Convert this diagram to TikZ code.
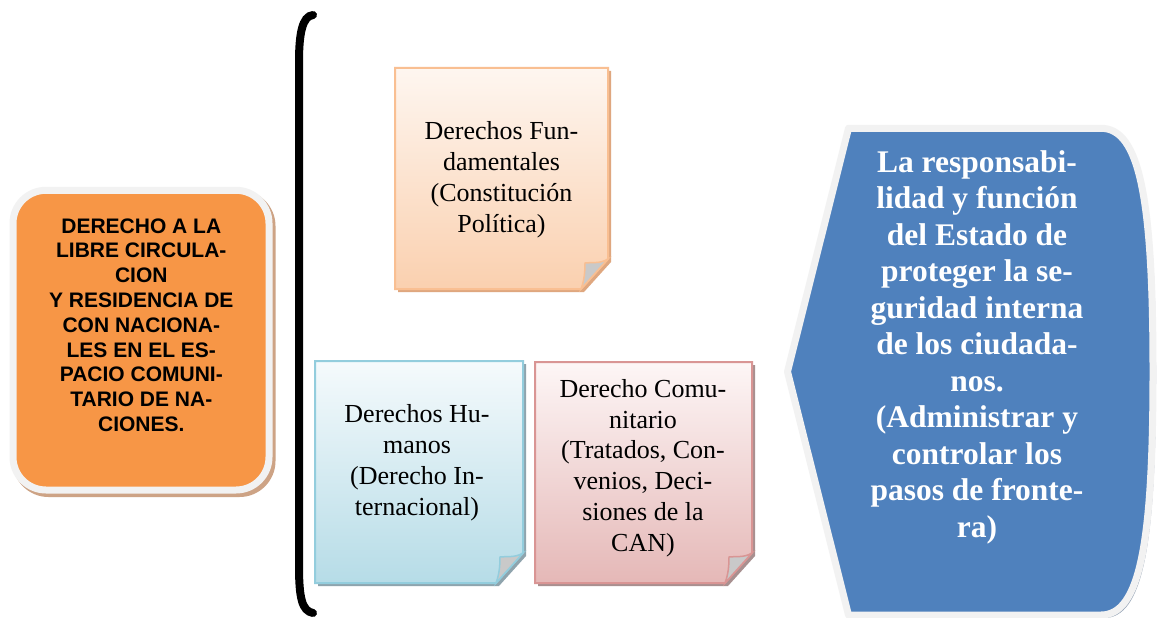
\documentclass[tikz,border=0pt]{standalone}
\usepackage{fontspec}
\setmainfont{Liberation Serif}
\newfontfamily\arialf{Liberation Sans}
\definecolor{orfill}{HTML}{F79646}
\definecolor{orshadow}{HTML}{CDA385}
\definecolor{lightborder}{HTML}{F2F2F2}
\definecolor{bluefill}{HTML}{4F81BD}
\definecolor{blueshadow}{HTML}{98A6B8}
\definecolor{peachtop}{HTML}{FEF6F0}
\definecolor{peachbot}{HTML}{FAD0AF}
\definecolor{peachborder}{HTML}{F9BF92}
\definecolor{peachshadow}{HTML}{DFA77F}
\definecolor{cyantop}{HTML}{F5FAFC}
\definecolor{cyanbot}{HTML}{B6DCE7}
\definecolor{cyanborder}{HTML}{93CDDD}
\definecolor{cyanshadow}{HTML}{8FA4AD}
\definecolor{pinktop}{HTML}{FDF6F6}
\definecolor{pinkbot}{HTML}{E5B8B7}
\definecolor{pinkborder}{HTML}{D99594}
\definecolor{pinkshadow}{HTML}{A89090}
\definecolor{foldgrey}{HTML}{C9C9C9}
\tikzset{
  notetext/.style={inner sep=0pt, align=center, font=\fontsize{26}{31}\selectfont},
  bracketline/.style={line width=8, draw=black, line cap=round},
}
% #1 L, #2 T, #3 R, #4 B, #5 top colour, #6 bottom colour, #7 border, #8 shadow
\newcommand\notebox[8]{%
  \fill[#8] (#1+3,#2+3) -- (#3+3,#2+3) -- (#3+3,#4+3-30) -- (#3+3-27,#4+3) -- (#1+3,#4+3) -- cycle;
  \draw[line width=2, draw=#7, top color=#5, bottom color=#6]
    (#1,#2) -- (#3,#2) -- (#3,#4-30) -- (#3-27,#4) -- (#1,#4) -- cycle;
  \filldraw[fill=foldgrey, draw=#7, line width=1.5]
    (#3,#4-30) .. controls (#3-8,#4-25) and (#3-16,#4-27) .. (#3-23,#4-26)
    .. controls (#3-23,#4-16) and (#3-24,#4-8) .. (#3-27,#4) -- cycle;
}
\begin{document}
\begin{tikzpicture}[x=1pt,y=-1pt]
\useasboundingbox (0,0) rectangle (1162,618);
\fill[white] (0,0) rectangle (1162,618);

% left orange box
\fill[orshadow, rounded corners=36] (12.5,190) rectangle (275.5,497);
\draw[line width=7, draw=lightborder, fill=orfill, rounded corners=33] (13,190.3) rectangle (269,490);
\node[inner sep=0pt, align=center, font=\arialf\bfseries\fontsize{21}{24.8}\selectfont] (otext) at (141.3,325)
  {DERECHO A LA\\LIBRE CIRCULA-\\CION\\Y RESIDENCIA DE\\CON NACIONA-\\LES EN EL ES-\\PACIO COMUNI-\\TARIO DE NA-\\CIONES.};

% bracket
\draw[bracketline] (313,15) .. controls (302,16) and (299,35) .. (299,62) -- (299,566) .. controls (299,598) and (302,611) .. (313,613);

% notes
\notebox{395}{68}{608}{289}{peachtop}{peachbot}{peachborder}{peachshadow}
\node[notetext] (fund) at (501.5,180) {Derechos Fun-\\damentales\\(Constitución\\Política)};

\notebox{315}{361}{523}{583}{cyantop}{cyanbot}{cyanborder}{cyanshadow}
\node[notetext] (hum) at (417,463) {Derechos Hu-\\manos\\(Derecho In-\\ternacional)};

\notebox{535}{362}{752}{583}{pinktop}{pinkbot}{pinkborder}{pinkshadow}
\node[notetext, font=\fontsize{26}{30.7}\selectfont] (com) at (643,468) {Derecho Comu-\\nitario\\(Tratados, Con-\\venios, Deci-\\siones de la\\CAN)};

% right blue shape
\fill[blueshadow] (790.5,374.7) -- (851.5,131.3) -- (1104,131.3) .. controls (1143,131.3) and (1156,203) .. (1156,374.7) .. controls (1156,546) and (1143,618) .. (1104,618) -- (851.5,618) -- cycle;
\draw[line width=7, draw=lightborder, fill=bluefill, line join=round]
  (787.5,371.7) -- (848.5,128.3) -- (1101,128.3) .. controls (1140,128.3) and (1153,200) .. (1153,371.7)
  .. controls (1153,543) and (1140,615) .. (1101,615) -- (848.5,615) -- cycle;
\node[inner sep=0pt, align=center, text=white, font=\bfseries\fontsize{31.5}{36.5}\selectfont] (state) at (977,347.3)
  {La responsabi-\\lidad y función\\del Estado de\\proteger la se-\\guridad interna\\de los ciudada-\\nos.\\(Administrar y\\controlar los\\pasos de fronte-\\ra)};
\end{tikzpicture}
\end{document}
